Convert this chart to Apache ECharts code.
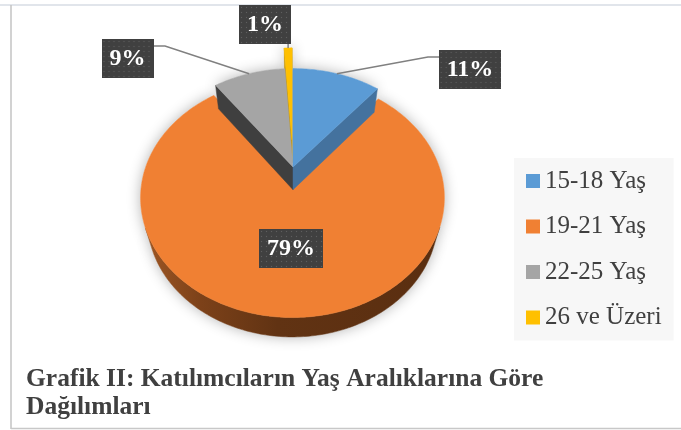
<!DOCTYPE html>
<html>
<head>
<meta charset="utf-8">
<script src="https://cdn.jsdelivr.net/npm/echarts@6/dist/echarts.min.js"></script>
<style>
  html, body { margin: 0; padding: 0; background: #ffffff; }
  #chart { width: 681px; height: 430px; }
</style>
</head>
<body>
<div id="chart"></div>
<script>
// Age groups of the participants and their shares (%)
const categories = ['15-18 Yaş', '19-21 Yaş', '22-25 Yaş', '26 ve Üzeri'];
const shares = [11, 79, 9, 1];
const captionLines = ['Grafik II: Katılımcıların Yaş Aralıklarına Göre', 'Dağılımları'];

// Slice styling
const topColors = ['#5B9BD5', '#F08033', '#A5A5A5', '#FFC000'];
const cutColors = ['#44729E', '#A85618', '#3F3F3F', '#C99700'];
const explode = [0, 0.11, 0, 0.25];
const zBase = [40, 10, 30, 20];

// Label boxes: centre of the box and the elbow of its leader line
const labelLayout = [
  { x: 470, y: 69.5, leader: [[428, 57], [440, 57]] },
  { x: 291, y: 248.5, leader: null },
  { x: 127.5, y: 58.5, leader: [[165, 46], [153, 46]] },
  { x: 265, y: 24.5, leader: 'up' }
];

// Simple perspective camera looking down on the pie
const VIEW = { cx: 293, cy: 167, F: 635, D: 4.3, tilt: 50 * Math.PI / 180, h: 0.25 };
const ct = Math.cos(VIEW.tilt), st = Math.sin(VIEW.tilt);
const CAM = [0, VIEW.D * st, -VIEW.D * ct];
const TAU = Math.PI * 2;

function project(X, Y, Z) {
  const depth = VIEW.D + Z * ct - Y * st;
  return [VIEW.cx + VIEW.F * X / depth, VIEW.cy - VIEW.F * (Y * ct + Z * st) / depth];
}
function facesCamera(P, n) {
  return (CAM[0] - P[0]) * n[0] + (CAM[1] - P[1]) * n[1] + (CAM[2] - P[2]) * n[2] > 0;
}

const LABEL_FONT = 'bold 24px "Liberation Serif"';
const LABEL_LINE = 23, PAD_X = 8, PAD_Y = 8;
const boxCache = {};
function dottedBox(text) {
  if (boxCache[text]) return boxCache[text];
  const c = document.createElement('canvas');
  let ctx = c.getContext('2d');
  ctx.font = LABEL_FONT;
  const w = Math.ceil(ctx.measureText(text).width) + 2 * PAD_X;
  const h = LABEL_LINE + 2 * PAD_Y;
  c.width = w; c.height = h;
  ctx = c.getContext('2d');
  ctx.fillStyle = '#404040';
  ctx.fillRect(0, 0, w, h);
  ctx.fillStyle = '#5E5E5E';
  for (let y = 2.5; y < h; y += 5) {
    for (let x = 2.5; x < w; x += 5) ctx.fillRect(x - 0.6, y - 0.6, 1.2, 1.2);
  }
  boxCache[text] = c;
  return c;
}

const wallGradient = {
  type: 'linear', global: true, x: 140, y: 0, x2: 446, y2: 0,
  colorStops: [
    { offset: 0, color: '#A05825' },
    { offset: 0.2, color: '#7C4119' },
    { offset: 0.45, color: '#613313' },
    { offset: 1, color: '#5A2E10' }
  ]
};

function renderSlice(params, api) {
  const i = params.seriesIndex;
  const v = api.value(0);
  const total = shares.reduce((s, x) => s + x, 0);
  let before = 0;
  for (let k = 0; k < i; k++) before += shares[k];
  const a0 = before / total * TAU;
  const a1 = a0 + v / total * TAU;
  const mid = (a0 + a1) / 2;
  const ox = explode[i] * Math.sin(mid), oz = explode[i] * Math.cos(mid);
  const h = VIEW.h;
  const rim = (phi, Y, r) => project(ox + (r || 1) * Math.sin(phi), Y, oz + (r || 1) * Math.cos(phi));
  const z = zBase[i];
  const N = Math.max(6, Math.ceil((a1 - a0) / TAU * 360));

  const apexTop = project(ox, 0, oz);
  const apexBot = project(ox, -h, oz);
  const topFace = [apexTop];
  for (let k = 0; k <= N; k++) topFace.push(rim(a0 + (a1 - a0) * k / N, 0));

  const children = [];
  // soft halo beneath the slice
  children.push({
    type: 'polygon', z2: 1, shape: { points: topFace },
    style: { fill: '#ffffff', shadowBlur: 14, shadowColor: 'rgba(0,0,0,0.30)' }
  });

  // outer wall: only the part turned towards the camera
  let run = [];
  const flush = () => {
    if (run.length > 1) {
      const pts = run.map(p => rim(p, 0)).concat(run.map(p => rim(p, -h)).reverse());
      children.push({
        type: 'polygon', z2: 1, shape: { points: pts },
        style: { fill: '#ffffff', shadowBlur: 14, shadowColor: 'rgba(0,0,0,0.30)' }
      });
      children.push({
        type: 'polygon', z2: z + 1, shape: { points: pts },
        style: { fill: i === 1 ? wallGradient : cutColors[i], stroke: i === 1 ? wallGradient : cutColors[i], lineWidth: 0.5 }
      });
    }
    run = [];
  };
  for (let k = 0; k <= N; k++) {
    const p = a0 + (a1 - a0) * k / N;
    const P = [ox + Math.sin(p), 0, oz + Math.cos(p)];
    if (facesCamera(P, [Math.sin(p), 0, Math.cos(p)])) run.push(p); else flush();
  }
  flush();

  // cut faces along the two radial edges
  const cutFace = (a, n) => {
    const P = [ox + 0.5 * Math.sin(a), -h / 2, oz + 0.5 * Math.cos(a)];
    if (!facesCamera(P, n)) return;
    children.push({
      type: 'polygon', z2: z + 2,
      shape: { points: [apexTop, rim(a, 0), rim(a, -h), apexBot] },
      style: { fill: cutColors[i], stroke: cutColors[i], lineWidth: 0.5 }
    });
  };
  cutFace(a0, [-Math.cos(a0), 0, Math.sin(a0)]);
  cutFace(a1, [Math.cos(a1), 0, -Math.sin(a1)]);

  // top face
  children.push({
    type: 'polygon', z2: z + 3, shape: { points: topFace },
    style: { fill: topColors[i], stroke: topColors[i], lineWidth: 0.5 }
  });

  // value label with leader line
  const text = v + '%';
  const lay = labelLayout[i];
  if (lay.leader) {
    const start = rim(mid, 0, 1.0);
    const pts = lay.leader === 'up'
      ? [start, [start[0], lay.y + (LABEL_LINE + 2 * PAD_Y) / 2]]
      : [start].concat(lay.leader);
    children.push({
      type: 'polyline', z2: 90, shape: { points: pts },
      style: { stroke: '#808080', lineWidth: 1.5, fill: null }
    });
  }
  children.push({
    type: 'text', z2: 100, x: lay.x, y: lay.y,
    style: {
      text: text, font: LABEL_FONT, fill: '#ffffff',
      align: 'center', verticalAlign: 'middle', lineHeight: LABEL_LINE,
      backgroundColor: { image: dottedBox(text) },
      padding: [PAD_Y, PAD_X],
      shadowBlur: 6, shadowOffsetX: 3, shadowOffsetY: 3, shadowColor: 'rgba(0,0,0,0.45)'
    }
  });

  return { type: 'group', children: children };
}

const chart = echarts.init(document.getElementById('chart'), null, { renderer: 'canvas' });

chart.setOption({
  animation: false,
  backgroundColor: '#ffffff',
  legend: {
    orient: 'vertical',
    left: 514, top: 158,
    data: categories,
    icon: 'rect',
    itemWidth: 14, itemHeight: 14, itemGap: 19.5,
    padding: [10, 12, 10, 12],
    backgroundColor: '#F7F7F7',
    selectedMode: false,
    textStyle: { fontFamily: 'Liberation Serif', fontSize: 25, lineHeight: 26, color: '#404040' }
  },
  graphic: [
    { type: 'line', shape: { x1: 0, y1: 5, x2: 681, y2: 5 }, style: { stroke: '#E1E5EB', lineWidth: 2 } },
    { type: 'line', shape: { x1: 11, y1: 5, x2: 11, y2: 429 }, style: { stroke: '#C3C3C3', lineWidth: 1.5 } },
    { type: 'line', shape: { x1: 11, y1: 428.5, x2: 681, y2: 428.5 }, style: { stroke: '#C8C8C8', lineWidth: 1.5 } },
    {
      type: 'text', left: 26, top: 365,
      style: {
        text: captionLines.join('\n'),
        font: 'bold 25.5px "Liberation Serif"', fill: '#404040', lineHeight: 28.5
      }
    }
  ],
  series: categories.map((name, i) => ({
    type: 'custom',
    name: name,
    coordinateSystem: 'none',
    itemStyle: { color: topColors[i] },
    renderItem: renderSlice,
    data: [{ value: shares[i], name: name }]
  }))
});
</script>
</body>
</html>
